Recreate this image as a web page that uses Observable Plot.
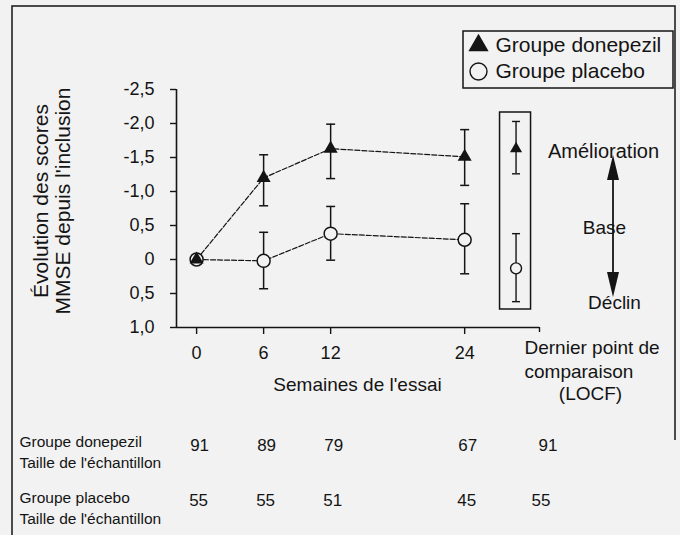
<!DOCTYPE html>
<html>
<head>
<meta charset="utf-8">
<script src="https://cdn.jsdelivr.net/npm/d3@7"></script>
<script src="https://cdn.jsdelivr.net/npm/@observablehq/plot@0.6"></script>
<style>
html, body { margin: 0; padding: 0; background: #f2f2f2; }
#chart { width: 680px; height: 535px; }
#chart svg { font-family: "Liberation Sans", Arial, Helvetica, sans-serif; }
</style>
</head>
<body>
<div id="chart"></div>
<script>
// ---- data ----
const weeks = [0, 6, 12, 24];
const weekLabels = ["0", "6", "12", "24"];

const donepezilMean = [0.0, -1.2, -1.63, -1.51];
const donepezilLow  = [null, -1.54, -1.99, -1.91];
const donepezilHigh = [null, -0.79, -1.19, -1.09];

const placeboMean = [0.0, 0.02, -0.38, -0.29];
const placeboLow  = [null, -0.40, -0.78, -0.82];
const placeboHigh = [null, 0.43, 0.01, 0.21];

const locfGroups = ["donepezil", "placebo"];
const locfMean = [-1.63, 0.13];
const locfLow  = [-2.03, -0.38];
const locfHigh = [-1.26, 0.62];

const yTicks = [-2.5, -2.0, -1.5, -1.0, -0.5, 0, 0.5, 1.0];
const yTickLabels = ["-2,5", "-2,0", "-1,5", "-1,0", "0,5", "0", "0,5", "1,0"];

const sampleDonepezil = [91, 89, 79, 67];
const samplePlacebo = [55, 55, 51, 45];
const sampleLocf = [91, 55];

// ---- layout ----
const W = 680, H = 535;
const ML = 176, MR = 141, MT = 89, MB = 208;
const xDomain = [-1.8, 30.7];
const LOCF_X = 28.6;
const INK = "#141414";
const PAPER = "#f2f2f2";
const FONT = "'Liberation Sans', Arial, Helvetica, sans-serif";

const don = weeks.map((w, i) => ({week: w, mean: donepezilMean[i], low: donepezilLow[i], high: donepezilHigh[i]}));
const plc = weeks.map((w, i) => ({week: w, mean: placeboMean[i], low: placeboLow[i], high: placeboHigh[i]}));
const locf = locfGroups.map((g, i) => ({group: g, week: LOCF_X, mean: locfMean[i], low: locfLow[i], high: locfHigh[i]}));
const bars = [...don, ...plc].filter(d => d.low != null);

const capSymbol = (hw) => ({draw(ctx) { ctx.moveTo(-hw, 0); ctx.lineTo(hw, 0); }});

function note(txt, X, Y, o = {}) {
  return Plot.text([txt], {text: d => d, frameAnchor: "top-left", lineAnchor: "middle",
    dx: X - ML, dy: Y - MT, fontSize: 19, fill: INK, ...o});
}

const tableRowsD = weeks.map((w, i) => ({week: w, n: sampleDonepezil[i]}));
const tableRowsP = weeks.map((w, i) => ({week: w, n: samplePlacebo[i]}));
const BOTTOM = H - MB;

const plot = Plot.plot({
  width: W, height: H,
  marginLeft: ML, marginRight: MR, marginTop: MT, marginBottom: MB,
  style: {background: PAPER, fontFamily: FONT, color: INK, overflow: "visible"},
  x: {domain: xDomain},
  y: {domain: [1.0, -2.5]},
  marks: [
    // axes
    Plot.ruleX([xDomain[0]], {stroke: INK, strokeWidth: 1.6}),
    Plot.ruleY([1.0], {stroke: INK, strokeWidth: 1.6}),
    Plot.axisY({ticks: yTicks, tickFormat: d => yTickLabels[yTicks.indexOf(d)], tickSize: 6,
      tickPadding: 16, fontSize: 18, label: null, stroke: INK, strokeWidth: 1.4}),
    Plot.axisX({ticks: weeks, tickFormat: d => weekLabels[weeks.indexOf(d)], tickSize: 7,
      tickPadding: 12, fontSize: 18, label: null, stroke: INK, strokeWidth: 1.4}),
    Plot.axisX({ticks: [xDomain[1]], tickFormat: () => "", tickSize: 5, label: null, stroke: INK, strokeWidth: 1.4}),

    // connecting lines
    Plot.line(don, {x: "week", y: "mean", stroke: INK, strokeWidth: 1.2, strokeDasharray: "5,2"}),
    Plot.line(plc, {x: "week", y: "mean", stroke: INK, strokeWidth: 1.2, strokeDasharray: "5,2"}),

    // error bars
    Plot.ruleX(bars, {x: "week", y1: "low", y2: "high", stroke: INK, strokeWidth: 1.5}),
    Plot.dot(bars, {x: "week", y: "low", symbol: capSymbol(4.5), stroke: INK, strokeWidth: 1.5}),
    Plot.dot(bars, {x: "week", y: "high", symbol: capSymbol(4.5), stroke: INK, strokeWidth: 1.5}),
    Plot.ruleX(locf, {x: "week", y1: "low", y2: "high", stroke: INK, strokeWidth: 1.4}),
    Plot.dot(locf, {x: "week", y: "low", symbol: capSymbol(4), stroke: INK, strokeWidth: 1.4}),
    Plot.dot(locf, {x: "week", y: "high", symbol: capSymbol(4), stroke: INK, strokeWidth: 1.4}),

    // markers
    Plot.dot(plc, {x: "week", y: "mean", r: 6.5, fill: PAPER, stroke: INK, strokeWidth: 1.5}),
    Plot.dot(don, {x: "week", y: "mean", symbol: "triangle", r: 5.2, fill: INK}),
    Plot.dot(locf.filter(d => d.group === "placebo"), {x: "week", y: "mean", r: 5.5, fill: PAPER, stroke: INK, strokeWidth: 1.4}),
    Plot.dot(locf.filter(d => d.group === "donepezil"), {x: "week", y: "mean", symbol: "triangle", r: 4.5, fill: INK}),

    // axis titles
    note("Semaines de l'essai", 357, 384, {textAnchor: "middle", fontSize: 19}),
    note("Dernier point de", 524, 347, {textAnchor: "start", fontSize: 19}),
    note("comparaison", 524, 371, {textAnchor: "start", fontSize: 19}),
    note("(LOCF)", 590, 393, {textAnchor: "middle", fontSize: 19}),

    // direction annotation
    note("Amélioration", 603, 151, {textAnchor: "middle", fontSize: 20}),
    note("Base", 604, 227, {textAnchor: "middle", fontSize: 19}),
    note("Déclin", 614, 302, {textAnchor: "middle", fontSize: 19}),

    // legend
    Plot.dot([0], {frameAnchor: "top-left", dx: 478 - ML, dy: 45 - MT, symbol: "triangle", r: 7.5, fill: INK}),
    Plot.dot([0], {frameAnchor: "top-left", dx: 478 - ML, dy: 71 - MT, r: 8.5, fill: "none", stroke: INK, strokeWidth: 1.4}),
    note("Groupe donepezil", 495, 45, {textAnchor: "start", fontSize: 21}),
    note("Groupe placebo", 495, 71, {textAnchor: "start", fontSize: 21}),

    // sample-size table
    note("Groupe donepezil", 19, 442, {textAnchor: "start", fontSize: 15.5}),
    note("Taille de l'échantillon", 19, 463, {textAnchor: "start", fontSize: 15.5}),
    note("Groupe placebo", 19, 498, {textAnchor: "start", fontSize: 15.5}),
    note("Taille de l'échantillon", 19, 519, {textAnchor: "start", fontSize: 15.5}),
    Plot.text(tableRowsD, {x: "week", text: "n", frameAnchor: "bottom", lineAnchor: "middle", dx: 3, dy: 445 - BOTTOM, fontSize: 17, fill: INK}),
    Plot.text(tableRowsP, {x: "week", text: "n", frameAnchor: "bottom", lineAnchor: "middle", dx: 2, dy: 500 - BOTTOM, fontSize: 17, fill: INK}),
    Plot.text([sampleLocf[0]], {x: () => LOCF_X, text: d => d, frameAnchor: "bottom", lineAnchor: "middle", dx: 32, dy: 445 - BOTTOM, fontSize: 17, fill: INK}),
    Plot.text([sampleLocf[1]], {x: () => LOCF_X, text: d => d, frameAnchor: "bottom", lineAnchor: "middle", dx: 25, dy: 500 - BOTTOM, fontSize: 17, fill: INK})
  ]
});

// decorative frame, boxes, arrow and rotated axis title
const svg = d3.select(plot);
const deco = svg.insert("g", ":first-child");
deco.append("path").attr("d", "M12,535 L12,6 L675,6 L675,440")
  .attr("fill", "none").attr("stroke", INK).attr("stroke-width", 1.5);
const xs = plot.scale("x");
const cx = xs.apply(LOCF_X);
svg.append("rect").attr("x", cx - 16).attr("y", 112).attr("width", 31).attr("height", 197)
  .attr("fill", "none").attr("stroke", INK).attr("stroke-width", 1.5);
svg.append("rect").attr("x", 463).attr("y", 31).attr("width", 210).attr("height", 57)
  .attr("fill", "none").attr("stroke", INK).attr("stroke-width", 1.5);
const ax = 613;
svg.append("line").attr("x1", ax).attr("x2", ax).attr("y1", 165).attr("y2", 288)
  .attr("stroke", INK).attr("stroke-width", 1.8);
svg.append("path").attr("d", `M${ax},155 L${ax - 6},180 L${ax + 6},180 Z`).attr("fill", INK);
svg.append("path").attr("d", `M${ax},297 L${ax - 6},272 L${ax + 6},272 Z`).attr("fill", INK);
const yTitle = ["Évolution des scores", "MMSE depuis l'inclusion"];
svg.append("g").selectAll("text").data(yTitle).join("text")
  .attr("transform", (d, i) => `translate(${41 + i * 22},201) rotate(-90)`)
  .attr("text-anchor", "middle").attr("dy", "0.35em")
  .attr("font-size", 21).attr("font-family", FONT).attr("fill", INK)
  .text(d => d);

document.getElementById("chart").appendChild(plot);
</script>
</body>
</html>
